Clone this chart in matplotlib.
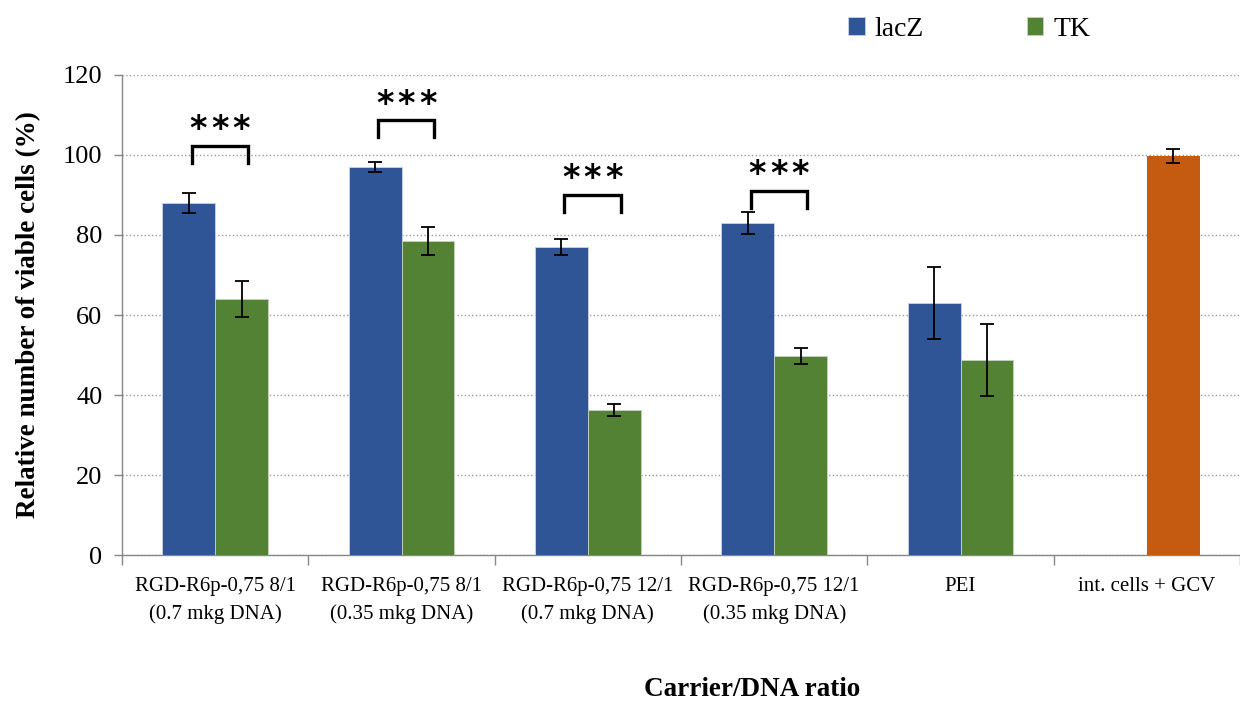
import numpy as np
import matplotlib
matplotlib.use('Agg')
import matplotlib.pyplot as plt

categories = ['RGD-R6p-0,75 8/1\n(0.7 mkg DNA)', 'RGD-R6p-0,75 8/1\n(0.35 mkg DNA)',
              'RGD-R6p-0,75 12/1\n(0.7 mkg DNA)', 'RGD-R6p-0,75 12/1\n(0.35 mkg DNA)',
              'PEI', 'int. cells + GCV']
lacz = [88, 97, 77, 83, 63]
lacz_err = [2.5, 1.3, 2.0, 2.7, 9.0]
tk = [64, 78.5, 36.2, 49.7, 48.7]
tk_err = [4.5, 3.5, 1.5, 2.0, 9.0]
ctrl = [99.7]
ctrl_err = [1.7]
# significance brackets
sig_groups = [0, 1, 2, 3]
sig_top = [102.3, 108.7, 90, 91]

plt.rcParams['font.family'] = ['Liberation Serif', 'DejaVu Serif']

fig = plt.figure(figsize=(12.4, 7.04), dpi=100)
ax = fig.add_axes([0.0984, 0.2116, 0.9016, 0.6819])

x = np.arange(len(categories))
w = 0.284
ekw = dict(ecolor='black', capsize=5, elinewidth=1.3, capthick=1.3)
ax.bar(x[:5] - w / 2, lacz, w, yerr=lacz_err, color='#2F5597', label='lacZ',
       edgecolor='#c9d3e6', linewidth=0.6, error_kw=ekw, zorder=3)
ax.bar(x[:5] + w / 2, tk, w, yerr=tk_err, color='#548235', label='TK',
       edgecolor='#c6d3bd', linewidth=0.6, error_kw=ekw, zorder=3)
ax.bar(x[5:] + w / 2, ctrl, w, yerr=ctrl_err, color='#C55A11',
       error_kw=ekw, zorder=3)

for g, top in zip(sig_groups, sig_top):
    x0 = x[g] - w / 2 + 0.015
    x1 = x[g] + w / 2 + 0.035
    ax.plot([x0, x0, x1, x1], [top - 4.2, top, top, top - 4.2],
            color='black', lw=2.4, zorder=4, solid_joinstyle='miter')
    xm = (x0 + x1) / 2
    for dx in (-0.115, 0, 0.115):
        ax.text(xm + dx, top + 4.0, '*', ha='center', va='center',
                fontsize=24, family='DejaVu Sans', fontweight='bold')

ax.set_xlim(-0.5, len(categories) - 0.5)
ax.set_ylim(0, 120)
ax.set_yticks(np.arange(0, 121, 20))
ax.set_xticks(x)
ax.set_xticklabels(categories, fontsize=15, linespacing=1.55)
ax.set_xticks(np.arange(-0.5, len(categories), 1), minor=True)
ax.tick_params(axis='x', which='major', length=0, pad=16)
ax.tick_params(axis='x', which='minor', length=7, color='#888888', width=1)
ax.tick_params(axis='y', labelsize=19, length=6, color='#888888', width=1, pad=8)

ax.grid(axis='y', linestyle=':', color='#999999', linewidth=1, zorder=0)
for s in ['top', 'right']:
    ax.spines[s].set_visible(False)
for s in ['left', 'bottom']:
    ax.spines[s].set_color('#888888')
    ax.spines[s].set_linewidth(1)

ax.set_ylabel('Relative number of viable cells (%)', fontsize=19.5, fontweight='bold', labelpad=16)
fig.text(752 / 1240, 1 - 690 / 704, 'Carrier/DNA ratio', fontsize=19.5,
         fontweight='bold', ha='center', va='center')

handles, labels = ax.get_legend_handles_labels()
fig.legend(handles, labels, loc='upper left', bbox_to_anchor=(0.664, 1.012), ncol=2,
           frameon=False, fontsize=20, handlelength=0.6, handleheight=0.6,
           columnspacing=3.7, handletextpad=0.35)

fig.savefig('out.png', dpi=100)
